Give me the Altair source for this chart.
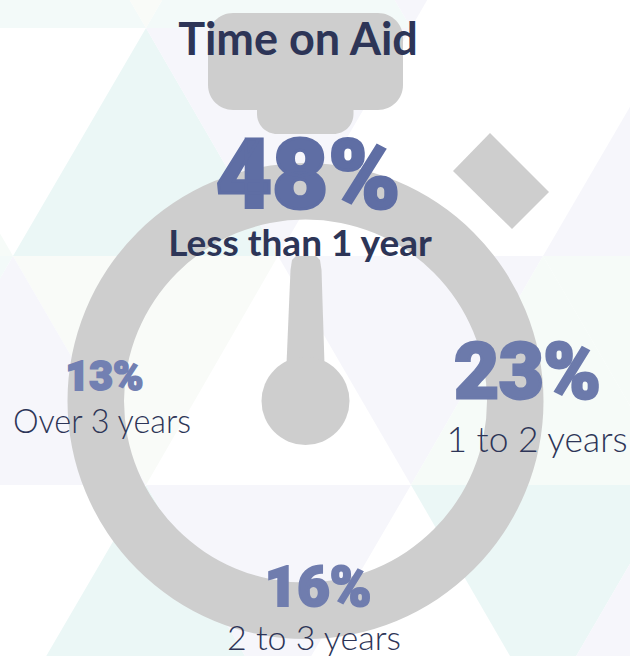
import altair as alt
import pandas as pd

W, H = 630, 656

# Survey shares and their categories
labels = ["Less than 1 year", "1 to 2 years", "2 to 3 years", "Over 3 years"]
shares = [48, 23, 16, 13]

TEAL = "#EBF7F6"
PALE_TEAL = "#F3FAF9"
LAV = "#F6F6FB"
GREEN = "#F6FBF8"
PALE_GREEN = "#F9FBF8"

# Background lattice: flat-edge y, apex y, left x, apex x, right x, colour
triangles = [
    (28, -200, -119, 13, 146, PALE_TEAL),
    (28, -200, 146, 278, 411, PALE_TEAL),
    (-200, 28, 13, 146, 278, PALE_GREEN),
    (-200, 28, 278, 411, 543, LAV),
    (256, 28, 13, 146, 278, TEAL),
    (28, 256, 146, 278, 411, LAV),
    (256, 28, 543, 676, 808, LAV),
    (256, 28, -252, -119, 13, GREEN),
    (256, 485, 13, 146, 278, PALE_GREEN),
    (485, 256, -119, 13, 146, LAV),
    (256, 485, -252, -119, 13, PALE_TEAL),
    (256, 485, 278, 411, 543, LAV),
    (485, 256, 411, 543, 676, GREEN),
    (256, 485, 543, 676, 808, GREEN),
    (713, 485, 13, 146, 278, TEAL),
    (485, 713, 146, 278, 411, LAV),
    (485, 713, 411, 543, 676, TEAL),
    (713, 485, 543, 676, 808, LAV),
]

tri_rows = []
for i, (flat, apex, xl, xa, xr, colour) in enumerate(triangles):
    tri_rows += [
        {"id": i, "x": xl, "y": flat, "y2": flat, "c": colour},
        {"id": i, "x": xa, "y": apex, "y2": flat, "c": colour},
        {"id": i, "x": xr, "y": flat, "y2": flat, "c": colour},
    ]

GRAY = "#CECECE"
X = alt.X("x:Q", scale=alt.Scale(domain=[0, W]), axis=None)
Y = alt.Y("y:Q", scale=alt.Scale(domain=[H, 0]), axis=None)

background = alt.Chart(pd.DataFrame(tri_rows)).mark_area(clip=True).encode(
    x=X, y=Y, y2="y2:Q",
    color=alt.Color("c:N", scale=None),
    detail="id:N",
)

# Stopwatch body
centre = pd.DataFrame({"x": [305.5], "y": [401]})
ring = alt.Chart(centre).mark_arc(
    innerRadius=181.5, outerRadius=238, theta=0, theta2=6.2832, color=GRAY
).encode(x=X, y=Y)
knob = alt.Chart(centre).mark_arc(
    innerRadius=0, outerRadius=44, theta=0, theta2=6.2832, color=GRAY
).encode(x=X, y=Y)

crown_top = alt.Chart(pd.DataFrame({"x": [208], "x2": [403], "y": [13], "y2": [110]})).mark_rect(
    cornerRadius=25, color=GRAY
).encode(x=X, x2="x2:Q", y=Y, y2="y2:Q")
crown_neck = alt.Chart(pd.DataFrame({"x": [257], "x2": [353.5], "y": [90], "y2": [134]})).mark_rect(
    cornerRadius=20, color=GRAY
).encode(x=X, x2="x2:Q", y=Y, y2="y2:Q")

button = alt.Chart(pd.DataFrame({
    "x": [453, 490, 512, 549],
    "y": [171, 133, 155, 192],
    "y2": [171, 207.4, 229, 192],
})).mark_area(color=GRAY).encode(x=X, y=Y, y2="y2:Q")

needle = alt.Chart(pd.DataFrame({
    "x": [286.5, 290.5, 292, 296, 316, 320, 321.5, 324.5],
    "y": [364, 270, 260, 256, 256, 260, 270, 364],
    "y2": [370, 370, 370, 370, 370, 370, 370, 370],
})).mark_area(color=GRAY).encode(x=X, y=Y, y2="y2:Q")

# Text
INK = "#2D3557"
FONT = "Lato"

title = alt.Chart(pd.DataFrame({"x": [298], "y": [55], "t": ["Time on Aid"]})).mark_text(
    font=FONT, fontWeight=700, fontSize=45, color=INK, baseline="alphabetic", align="center"
).encode(x=X, y=Y, text="t:N")

share_pos = pd.DataFrame({
    "x": [308, 527.5, 318, 104.5],
    "y": [208, 397.5, 605.5, 390],
    "t": [f"{v}%" for v in shares],
    "size": [97, 77, 56, 41],
    "sw": [3, 3, 2.2, 1.8],
    "c": ["#5F6EA4", "#6C7AAB", "#707DAE", "#7280B2"],
})
share_text = alt.Chart(share_pos).mark_text(
    font="Roboto", fontWeight=900, baseline="alphabetic", align="center"
).encode(
    x=X, y=Y, text="t:N",
    size=alt.Size("size:Q", scale=None, legend=None),
    color=alt.Color("c:N", scale=None),
    stroke=alt.Stroke("c:N", scale=None),
    strokeWidth=alt.StrokeWidth("sw:Q", scale=None, legend=None),
)

label_pos = pd.DataFrame({
    "x": [300, 537, 314, 102],
    "y": [256, 452, 650, 433],
    "t": labels,
    "size": [37, 35.4, 34, 32.4],
})
top_label = alt.Chart(label_pos.iloc[:1]).mark_text(
    font=FONT, fontWeight=700, color=INK, baseline="alphabetic", align="center"
).encode(x=X, y=Y, text="t:N", size=alt.Size("size:Q", scale=None, legend=None))
other_labels = alt.Chart(label_pos.iloc[1:]).mark_text(
    font=FONT, fontWeight=300, color=INK, baseline="alphabetic", align="center"
).encode(x=X, y=Y, text="t:N", size=alt.Size("size:Q", scale=None, legend=None))

chart = alt.layer(
    background, ring, crown_neck, crown_top, button, needle, knob,
    title, share_text, top_label, other_labels,
).properties(
    width=W, height=H, padding=0, background="white",
    autosize=alt.AutoSizeParams(type="none"),
).configure_view(stroke=None)

chart.save("out.html", embed_options={"renderer": "svg", "actions": False})
